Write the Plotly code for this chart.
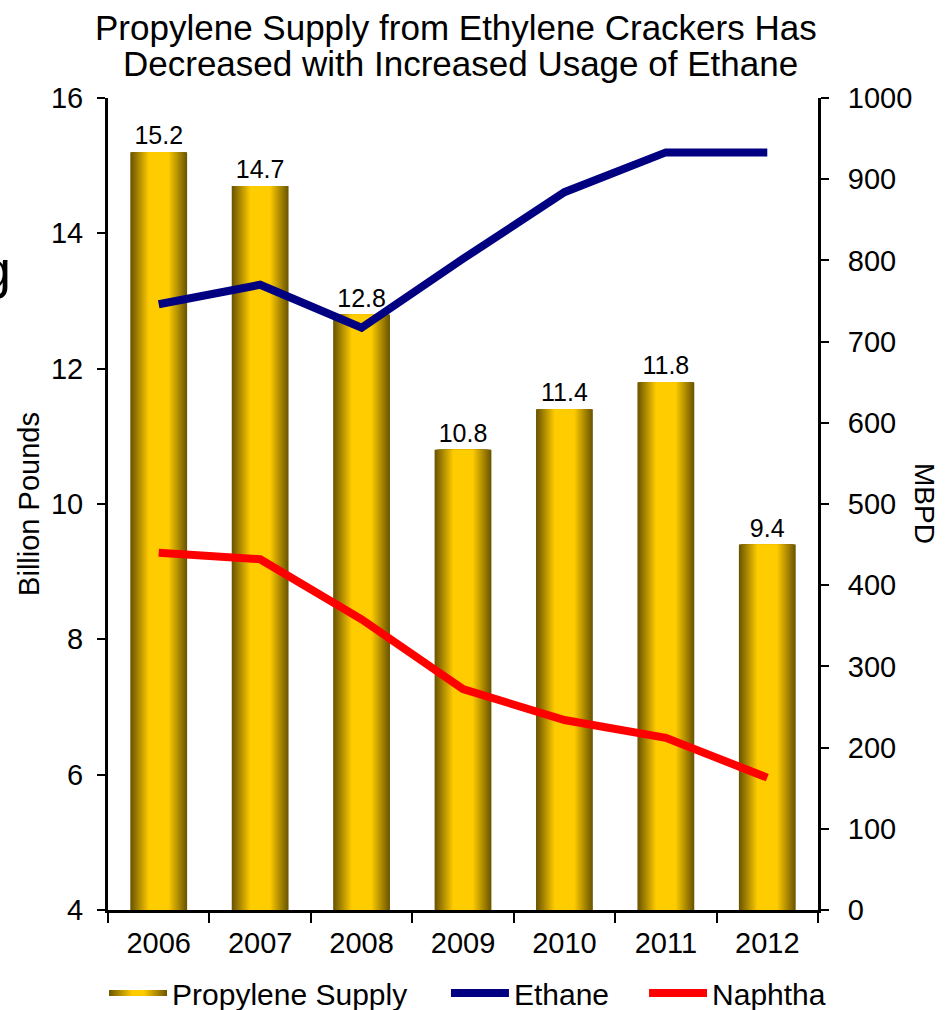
import plotly.graph_objects as go

# Chart data
years = ["2006", "2007", "2008", "2009", "2010", "2011", "2012"]
propylene_supply = [15.2, 14.7, 12.8, 10.8, 11.4, 11.8, 9.4]   # billion pounds
ethane_mbpd = [746, 770, 717, 802, 884, 933, 933]            # MBPD
naphtha_mbpd = [440, 432, 358, 272, 234, 212, 163]           # MBPD

FONT = "Liberation Sans, Arial, sans-serif"
DARK = (108, 86, 0)
GOLD = (255, 204, 0)


def mix(t):
    c = [round(d + (g - d) * t) for d, g in zip(DARK, GOLD)]
    return f"rgb({c[0]},{c[1]},{c[2]})"


fig = go.Figure()

# Legend entry for the shaded bars
fig.add_trace(go.Scatter(
    x=[None], y=[None], mode="none", fill="toself", name="Propylene Supply",
    fillgradient=dict(type="horizontal",
                      colorscale=[[0, mix(0)], [0.4, mix(1)], [0.6, mix(1)], [1, mix(0)]]),
    hoverinfo="skip", legend="legend",
))

# Cylinder-style bars: nested overlaid bars from the dark rim to the bright centre
n_layers = 19
for i in range(n_layers):
    width = 0.56 - 0.02 * i
    fig.add_trace(go.Bar(
        x=years, y=propylene_supply, width=width,
        marker=dict(color=mix(i / (n_layers - 1)), line=dict(width=0)),
        showlegend=False,
        text=[f"{v:.1f}" for v in propylene_supply] if i == 0 else None,
        textposition="outside" if i == 0 else "none",
        textfont=dict(size=25, color="black", family=FONT),
        cliponaxis=False,
        hoverinfo="x+y",
    ))

fig.add_trace(go.Scatter(
    x=years, y=ethane_mbpd, name="Ethane", mode="lines",
    line=dict(color="#000080", width=8), yaxis="y2", legend="legend2",
))
fig.add_trace(go.Scatter(
    x=years, y=naphtha_mbpd, name="Naphtha", mode="lines",
    line=dict(color="#FF0000", width=8), yaxis="y2", legend="legend3",
))

axis_common = dict(
    showline=True, linecolor="black", linewidth=3,
    ticks="outside", tickcolor="black", tickwidth=2,
    showgrid=False, zeroline=False,
    tickfont=dict(size=29, color="black", family=FONT),
)

legend_common = dict(
    orientation="h", xanchor="left", y=-0.1022, yanchor="middle",
    itemwidth=58, font=dict(size=30, color="black", family=FONT),
    bgcolor="rgba(0,0,0,0)",
)

fig.update_layout(
    width=950, height=1010,
    margin=dict(l=108, r=132, t=98, b=100, autoexpand=False),
    paper_bgcolor="white", plot_bgcolor="white",
    barmode="overlay",
    font=dict(family=FONT, color="black", size=28),
    xaxis=dict(type="category", range=[-0.5, 6.5], tickson="boundaries",
               ticklen=10, ticklabelstandoff=5, **axis_common),
    yaxis=dict(range=[4, 16], dtick=2, ticklen=8, ticklabelstandoff=8,
               title=dict(text="Billion Pounds", font=dict(size=29), standoff=3),
               **axis_common),
    yaxis2=dict(overlaying="y", side="right", range=[0, 1000], dtick=100,
                ticklen=8, ticklabelstandoff=13, **axis_common),
    legend=dict(x=-0.0056, **legend_common),
    legend2=dict(x=0.476, **legend_common),
    legend3=dict(x=0.755, **legend_common),
    annotations=[
        dict(text="Propylene Supply from Ethylene Crackers Has", xref="paper", yref="paper",
             x=0.49, y=1.0874, xanchor="center", yanchor="middle", showarrow=False,
             font=dict(size=35, color="black", family=FONT)),
        dict(text="Decreased with Increased Usage of Ethane", xref="paper", yref="paper",
             x=0.497, y=1.0431, xanchor="center", yanchor="middle", showarrow=False,
             font=dict(size=35, color="black", family=FONT)),
        dict(text="MBPD", xref="paper", yref="paper", x=1.1507, y=0.5,
             xanchor="center", yanchor="middle", textangle=90, showarrow=False,
             font=dict(size=28, color="black", family=FONT)),
        dict(text="g", xref="paper", yref="paper", x=-0.182, y=0.79,
             xanchor="left", yanchor="middle", showarrow=False,
             font=dict(size=54, color="black", family=FONT)),
    ],
)

fig.write_html("out.html")
